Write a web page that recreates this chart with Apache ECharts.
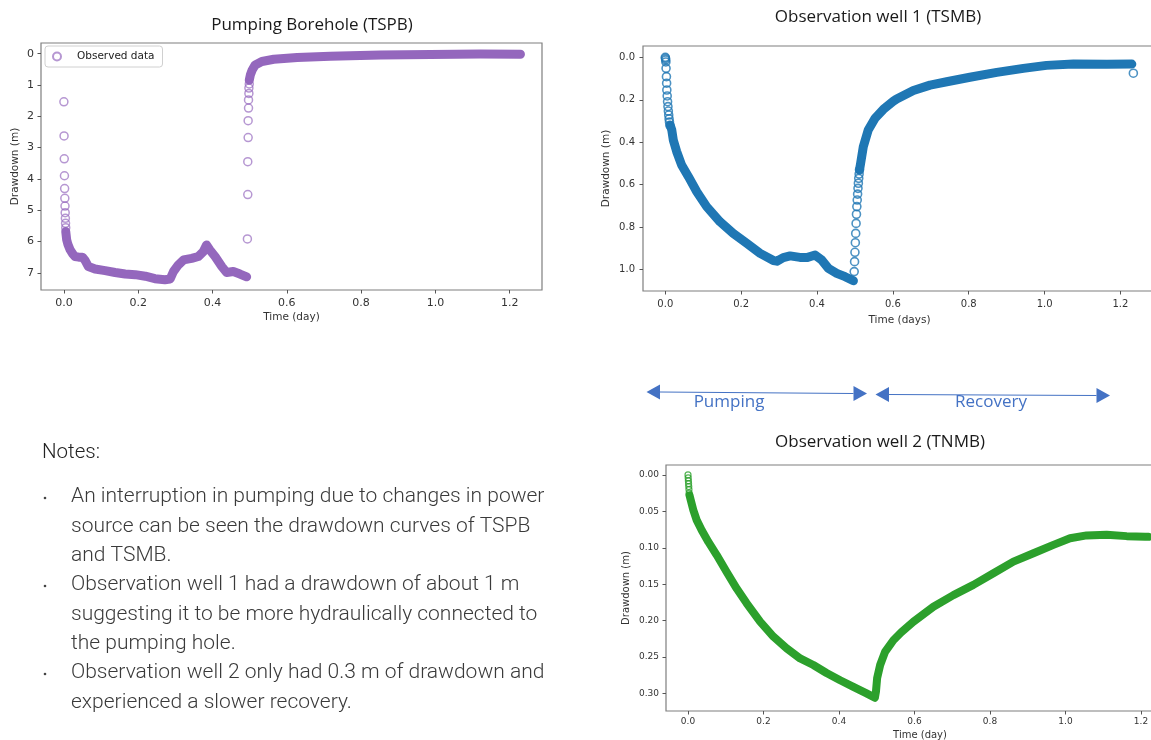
<!DOCTYPE html>
<html>
<head>
<meta charset="utf-8">
<script src="https://cdn.jsdelivr.net/npm/echarts@6/dist/echarts.min.js"></script>
<style>
html,body{margin:0;padding:0;background:#fff;}
#c{width:1151px;height:740px;}
</style>
</head>
<body>
<div id="c"></div>
<script>
// ---------- tick labels ----------
const timeTicks = [0, 0.2, 0.4, 0.6, 0.8, 1.0, 1.2];
const tspbTicks = [0, 1, 2, 3, 4, 5, 6, 7];
const tsmbTicks = [0, 0.2, 0.4, 0.6, 0.8, 1.0];
const tnmbTicks = [0, 0.05, 0.10, 0.15, 0.20, 0.25, 0.30];

// ---------- Pumping Borehole (TSPB): [time (day), drawdown (m)] ----------
const tspbSparse = [
  [0.000,1.54],[0.0005,2.63],[0.001,3.36],[0.0015,3.90],[0.002,4.31],[0.0025,4.62],
  [0.003,4.87],[0.0035,5.08],[0.004,5.26],[0.0045,5.42],[0.005,5.56],
  [0.494,5.92],[0.495,4.50],[0.495,3.45],[0.496,2.68],[0.496,2.14],[0.497,1.74],
  [0.497,1.48],[0.498,1.27],[0.498,1.10],[0.499,0.97]
];
const tspbPumping = [
  [0.005,5.68],[0.0076,5.95],[0.011,6.10],[0.017,6.27],[0.024,6.40],[0.030,6.48],
  [0.040,6.50],[0.050,6.50],[0.057,6.60],[0.066,6.80],[0.084,6.88],[0.111,6.93],
  [0.138,6.99],[0.165,7.04],[0.192,7.06],[0.219,7.11],[0.245,7.19],[0.272,7.22],
  [0.286,7.20],[0.295,6.96],[0.308,6.75],[0.322,6.59],[0.344,6.54],[0.362,6.48],
  [0.375,6.33],[0.384,6.11],[0.393,6.27],[0.407,6.48],[0.425,6.80],[0.438,6.99],
  [0.456,6.96],[0.474,7.04],[0.492,7.13]
];
const tspbRecovery = [
  [0.499,0.85],[0.502,0.68],[0.507,0.52],[0.515,0.36],[0.533,0.25],[0.565,0.18],
  [0.628,0.125],[0.717,0.083],[0.852,0.045],[0.987,0.025],[1.121,0.015],[1.229,0.02]
];

// ---------- Observation well 1 (TSMB) ----------
const tsmbSparse = [
  [0.000,0.000],[0.0005,0.005],[0.001,0.012],[0.0015,0.022],[0.002,0.052],[0.003,0.091],
  [0.0035,0.122],[0.004,0.154],[0.005,0.182],[0.006,0.209],[0.007,0.232],[0.008,0.253],
  [0.009,0.272],[0.010,0.290],[0.011,0.305],[0.012,0.320],
  [0.498,1.009],[0.499,0.962],[0.500,0.918],[0.501,0.873],[0.502,0.829],[0.503,0.782],
  [0.504,0.739],[0.505,0.703],[0.506,0.672],[0.507,0.644],[0.508,0.617],[0.509,0.593],
  [0.510,0.570],[0.511,0.550],[0.512,0.530],
  [1.234,0.075]
];
const tsmbPumping = [
  [0.013,0.320],[0.017,0.342],[0.021,0.389],[0.030,0.444],[0.043,0.507],[0.061,0.562],
  [0.083,0.633],[0.109,0.703],[0.144,0.774],[0.179,0.829],[0.215,0.876],[0.250,0.923],
  [0.285,0.957],[0.294,0.960],[0.311,0.943],[0.329,0.935],[0.355,0.942],[0.373,0.943],
  [0.395,0.931],[0.412,0.954],[0.430,0.994],[0.452,1.017],[0.474,1.033],[0.496,1.052]
];
const tsmbRecovery = [
  [0.512,0.530],[0.515,0.499],[0.522,0.421],[0.535,0.342],[0.553,0.287],[0.575,0.245],
  [0.601,0.207],[0.610,0.196],[0.654,0.156],[0.698,0.131],[0.742,0.115],[0.803,0.094],
  [0.874,0.071],[0.944,0.052],[1.005,0.038],[1.076,0.032],[1.164,0.033],[1.230,0.032]
];

// ---------- Observation well 2 (TNMB) ----------
const tnmbSparse = [
  [0.000,0.000],[0.0005,0.004],[0.001,0.008],[0.0015,0.012],[0.002,0.016],[0.0025,0.020],[0.003,0.025]
];
const tnmbCurve = [
  [0.004,0.028],[0.007,0.034],[0.014,0.048],[0.023,0.062],[0.036,0.0755],[0.054,0.092],[0.076,0.110],
  [0.102,0.133],[0.129,0.156],[0.155,0.176],[0.191,0.2015],[0.226,0.222],[0.261,0.238],
  [0.297,0.252],[0.332,0.261],[0.367,0.272],[0.403,0.282],[0.438,0.291],[0.473,0.300],
  [0.495,0.306],[0.498,0.297],[0.501,0.279],[0.509,0.261],[0.522,0.243],[0.544,0.227],
  [0.565,0.216],[0.597,0.2015],[0.650,0.181],[0.703,0.165],[0.756,0.151],[0.809,0.135],
  [0.862,0.119],[0.915,0.1076],[0.968,0.096],[1.012,0.087],[1.056,0.083],[1.109,0.082],
  [1.162,0.084],[1.211,0.085],[1.220,0.085]
];

// ---------- text ----------
const titles = ['Pumping Borehole (TSPB)', 'Observation well 1 (TSMB)', 'Observation well 2 (TNMB)'];
const notesHeading = 'Notes:';
const notesLines = [
  {bullet:true,  text:'An interruption in pumping due to changes in power'},
  {bullet:false, text:'source can be seen the drawdown curves of TSPB'},
  {bullet:false, text:'and TSMB.'},
  {bullet:true,  text:'Observation well 1 had a drawdown of about 1 m'},
  {bullet:false, text:'suggesting it to be more hydraulically connected to'},
  {bullet:false, text:'the pumping hole.'},
  {bullet:true,  text:'Observation well 2 only had 0.3 m of drawdown and'},
  {bullet:false, text:'experienced a slower recovery.'}
];

const PURPLE = '#9467bd', BLUE = '#1f77b4', GREEN = '#2ca02c', ARROW = '#4472c4';
const AX_FONT = 'DejaVu Sans';

function xAx(grid, min, max, fs, margin, nameGap, name) {
  return {
    type:'value', gridIndex:grid, min:min, max:max, name:name,
    nameLocation:'middle', nameGap:nameGap,
    nameTextStyle:{fontFamily:AX_FONT, fontSize:fs[1], color:'#333'},
    axisLine:{show:false, onZero:false}, splitLine:{show:false},
    axisTick:{show:true, inside:false, length:3.5, customValues:timeTicks, lineStyle:{color:'#555'}},
    axisLabel:{customValues:timeTicks, margin:margin, fontFamily:AX_FONT, fontSize:fs[0], color:'#333',
      formatter:v => v.toFixed(1)}
  };
}
function yAx(grid, min, max, ticks, dec, fs, margin, nameGap) {
  return {
    type:'value', gridIndex:grid, min:min, max:max, inverse:true, name:'Drawdown (m)',
    nameLocation:'middle', nameGap:nameGap,
    nameTextStyle:{fontFamily:AX_FONT, fontSize:fs[1], color:'#333'},
    axisLine:{show:false, onZero:false}, splitLine:{show:false},
    axisTick:{show:true, inside:false, length:3.5, customValues:ticks, lineStyle:{color:'#555'}},
    axisLabel:{customValues:ticks, margin:margin, fontFamily:AX_FONT, fontSize:fs[0], color:'#333',
      formatter:v => v.toFixed(dec)}
  };
}
function band(name, data, idx, color, w) {
  return {type:'line', name:name, data:data, xAxisIndex:idx, yAxisIndex:idx, symbol:'none',
    silent:true, lineStyle:{color:color, width:w, cap:'round', join:'round'}, z:2};
}
function dots(name, data, idx, color, size, bw) {
  return {type:'scatter', name:name, data:data, xAxisIndex:idx, yAxisIndex:idx, symbol:'circle',
    symbolSize:size, itemStyle:{color:'rgba(0,0,0,0)', borderColor:color, borderWidth:bw}, z:3};
}

const graphics = [];
const titlePos = [[312,25],[878,17],[880,442]];
titles.forEach((t,i) => graphics.push({type:'text', x:titlePos[i][0], y:titlePos[i][1],
  style:{text:t, font:'17px "Open Sans"', fill:'#1a1a1a', align:'center', verticalAlign:'middle'}}));

function arrow(x1,y1,x2,y2){
  const h=13.5, hw=7.5;
  graphics.push({type:'line', shape:{x1:x1+h, y1:y1, x2:x2-h, y2:y2}, style:{stroke:ARROW, lineWidth:1}});
  graphics.push({type:'polygon', shape:{points:[[x1,y1],[x1+h,y1-hw],[x1+h,y1+hw]]}, style:{fill:ARROW}});
  graphics.push({type:'polygon', shape:{points:[[x2,y2],[x2-h,y2-hw],[x2-h,y2+hw]]}, style:{fill:ARROW}});
}
arrow(646.5,392,867,393.5);
arrow(875.5,394.5,1110,395.5);
graphics.push({type:'text', x:729, y:402, style:{text:'Pumping', font:'17px "Open Sans"', fill:ARROW, align:'center', verticalAlign:'middle'}});
graphics.push({type:'text', x:991, y:402, style:{text:'Recovery', font:'17px "Open Sans"', fill:ARROW, align:'center', verticalAlign:'middle'}});

graphics.push({type:'text', x:42, y:453, style:{text:notesHeading, font:'300 20.5px Roboto', fill:'#222', align:'left', verticalAlign:'middle'}});
const lineY = [497, 527, 556, 585, 615, 643.5, 673, 702.5];
notesLines.forEach((l,i) => {
  if (l.bullet) graphics.push({type:'circle', shape:{cx:45, cy:lineY[i]+1, r:1.3}, style:{fill:'#444'}});
  graphics.push({type:'text', x:71, y:lineY[i], style:{text:l.text, font:'300 21px Roboto', fill:'#3a3a3a', align:'left', verticalAlign:'middle'}});
});

const gridBase = {show:true, borderColor:'#7f7f7f', borderWidth:1.2, backgroundColor:'transparent', containLabel:false, outerBoundsMode:'none'};
const chart = echarts.init(document.getElementById('c'));
chart.setOption({
  backgroundColor:'#fff',
  animation:false,
  grid:[
    Object.assign({left:41, top:43, width:501, height:247}, gridBase),
    Object.assign({left:643, top:46, width:513, height:245}, gridBase),
    Object.assign({left:666, top:465, width:508, height:246}, gridBase)
  ],
  xAxis:[
    xAx(0, -0.0616, 1.287, [11,10.5], 8, 22, 'Time (day)'),
    xAx(1, -0.0588, 1.2937, [10,10.5], 8, 24, 'Time (days)'),
    xAx(2, -0.0583, 1.2874, [9,10], 6.5, 19.5, 'Time (day)')
  ],
  yAxis:[
    yAx(0, -0.34, 7.55, tspbTicks, 0, [11,10.5], 7, 20),
    yAx(1, -0.0532, 1.1003, tsmbTicks, 1, [10,10.5], 8, 31),
    yAx(2, -0.0137, 0.3242, tnmbTicks, 2, [9,10], 7, 35)
  ],
  legend:{
    data:[{name:'Observed data', icon:'circle'}],
    left:45, top:46, orient:'vertical', padding:[5,8,5,7], itemWidth:14, itemHeight:8,
    borderColor:'#d0d0d0', borderWidth:1, borderRadius:3, backgroundColor:'#fff',
    textStyle:{fontFamily:AX_FONT, fontSize:10.5, color:'#222', padding:[0,0,0,8]}
  },
  series:[
    band('tspb-pumping', tspbPumping, 0, PURPLE, 9),
    band('tspb-recovery', tspbRecovery, 0, PURPLE, 9),
    dots('Observed data', tspbSparse, 0, 'rgba(148,103,189,0.85)', 8, 1.5),
    band('tsmb-pumping', tsmbPumping, 1, BLUE, 9),
    band('tsmb-recovery', tsmbRecovery, 1, BLUE, 9),
    dots('tsmb-sparse', tsmbSparse, 1, BLUE, 8, 1.6),
    band('tnmb-curve', tnmbCurve, 2, GREEN, 8),
    dots('tnmb-sparse', tnmbSparse, 2, GREEN, 6, 1.2)
  ],
  graphic:graphics
});
</script>
</body>
</html>
